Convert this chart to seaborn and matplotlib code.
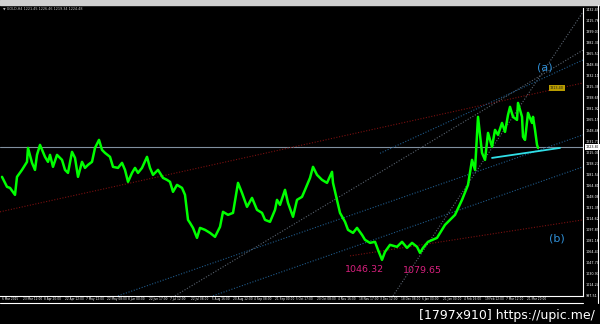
import matplotlib
matplotlib.use("Agg")
import matplotlib.pyplot as plt
import seaborn as sns
import pandas as pd

sns.set_theme(style="dark")
plt.rcParams['font.family'] = ['DejaVu Sans']

# ---- data (bar index, price) ----
bars = [2, 7, 10, 15, 17, 22, 27, 28, 32, 35, 37, 40, 45, 48, 50, 53, 57, 62, 65, 68,
        72, 75, 78, 82, 85, 88, 92, 95, 99, 102, 105, 110, 113, 118, 122, 125, 128, 132,
        135, 138, 142, 147, 150, 153, 158, 163, 167, 170, 173, 177, 182, 185, 188, 190,
        193, 197, 200, 205, 210, 215, 220, 223, 228, 233, 238, 242, 247, 252, 257, 262,
        265, 270, 275, 277, 280, 285, 288, 293, 297, 302, 305, 310, 313, 317, 322, 327,
        332, 333, 337, 340, 345, 348, 353, 357, 362, 365, 370, 375, 378, 382, 385, 390,
        397, 402, 407, 412, 417, 420, 423, 428, 437, 445, 455, 462, 468, 472, 475, 478,
        482, 485, 488, 492, 495, 498, 502, 505, 508, 510, 513, 517, 518, 522, 523, 525,
        528, 532, 533, 535, 537, 538]
prices = [1178.2, 1163.0, 1161.4, 1150.8, 1178.2, 1188.8, 1201.0, 1222.2, 1199.5, 1188.8,
          1211.6, 1226.8, 1208.6, 1201.0, 1211.6, 1193.4, 1211.6, 1204.0, 1188.8, 1184.2,
          1216.2, 1207.0, 1178.2, 1201.0, 1191.8, 1196.4, 1201.0, 1222.2, 1234.4, 1219.2,
          1214.6, 1208.6, 1193.4, 1191.8, 1199.5, 1188.8, 1170.6, 1184.2, 1191.8, 1184.2,
          1191.8, 1208.6, 1191.8, 1181.2, 1188.8, 1176.6, 1173.6, 1170.6, 1155.4, 1166.0,
          1161.4, 1150.8, 1112.8, 1108.2, 1100.6, 1085.4, 1100.6, 1097.6, 1093.0, 1087.0,
          1102.2, 1125.0, 1120.4, 1123.4, 1169.0, 1153.8, 1132.6, 1146.2, 1128.0, 1123.4,
          1112.8, 1109.8, 1128.0, 1143.2, 1135.6, 1158.4, 1138.6, 1117.4, 1143.2, 1147.8,
          1158.4, 1176.6, 1193.4, 1181.2, 1173.6, 1169.0, 1185.8, 1169.0, 1143.2, 1123.4,
          1109.8, 1097.6, 1093.0, 1100.6, 1090.0, 1082.4, 1077.8, 1079.4, 1067.2, 1052.0,
          1064.2, 1074.8, 1071.8, 1079.4, 1070.2, 1077.8, 1071.8, 1062.6, 1070.2, 1079.4,
          1085.4, 1105.2, 1120.4, 1143.2, 1166.0, 1204.0, 1188.8, 1269.4, 1214.6, 1204.0,
          1245.0, 1223.8, 1249.6, 1242.0, 1260.2, 1246.6, 1272.4, 1284.6, 1269.4, 1264.8,
          1290.6, 1269.4, 1239.0, 1234.4, 1275.4, 1260.2, 1269.4, 1249.6, 1226.8, 1222.2]

time_labels = ["6 Mar 2015", "23 Mar 12:00", "8 Apr 20:00", "22 Apr 12:00", "7 May 12:00",
               "22 May 08:00", "8 Jun 00:00", "22 Jun 17:00", "7 Jul 12:00", "22 Jul 08:00",
               "5 Aug 16:00", "20 Aug 12:00", "4 Sep 08:00", "21 Sep 00:00", "5 Oct 17:00",
               "20 Oct 08:00", "4 Nov 16:00", "18 Nov 17:00", "3 Dec 12:00", "18 Dec 08:00",
               "6 Jan 00:00", "21 Jan 00:00", "4 Feb 16:00", "19 Feb 12:00", "7 Mar 12:00",
               "21 Mar 20:00"]
time_ticks = [2, 23, 44, 65, 86, 107, 128, 149, 170, 191, 212, 233, 254, 275, 296, 317,
              338, 359, 380, 401, 422, 443, 464, 485, 506, 527]

price_ticks = [997.51, 1014.24, 1030.97, 1047.70, 1064.43, 1081.16, 1097.89, 1114.62,
               1131.35, 1148.08, 1164.81, 1181.54, 1198.27, 1215.00, 1231.73, 1248.46,
               1265.19, 1281.92, 1298.65, 1315.38, 1332.11, 1348.84, 1365.57, 1382.30,
               1399.03, 1415.76, 1432.49]

current_price = 1223.8

# trend / channel lines: (x0, p0, x1, p1, colour)
channel_lines = [
    (0, 1125.0, 583, 1321.0, "#7a1010"),
    (350, 1058.0, 583, 1112.8, "#7a1010"),
    (118, 997.3, 583, 1242.0, "#1f5a8a"),
    (213, 997.3, 583, 1193.4, "#1f5a8a"),
    (393, 997.3, 583, 1429.0, "#5a6470"),
    (175, 997.3, 583, 1371.0, "#5a6470"),
    (380, 1214.0, 583, 1356.0, "#1f5a8a"),
]
support_line = (492, 1207.0, 560, 1222.2)

# ---- figure ----
fig = plt.figure(figsize=(6.0, 3.24), dpi=100, facecolor="black")
ax = fig.add_axes([0.0, 0.0864, 0.9717, 0.889])
ax.set_facecolor("black")

df = pd.DataFrame({"bar": bars, "price": prices})
sns.lineplot(data=df, x="bar", y="price", color="#00ff00", linewidth=1.8,
             estimator=None, sort=False, ax=ax)

ax.axhline(current_price, color="#8090a0", linewidth=0.8, zorder=1)
for x0, p0, x1, p1, c in channel_lines:
    ax.plot([x0, x1], [p0, p1], color=c, linewidth=0.8, linestyle=(0, (1, 1.5)), zorder=1)
ax.plot([support_line[0], support_line[2]], [support_line[1], support_line[3]],
        color="#30e0e8", linewidth=1.3, zorder=3)

ax.set_xlim(0, 583)
ax.set_ylim(997, 1435)
ax.set_xlabel("")
ax.set_ylabel("")
ax.set_xticks([])
ax.set_yticks([])
for s in ["top", "left"]:
    ax.spines[s].set_visible(False)
for s in ["right", "bottom"]:
    ax.spines[s].set_color("white")
    ax.spines[s].set_linewidth(0.8)

# annotations
ax.text(545, 1343.8, "(a)", color="#2f8fd6", fontsize=8, ha="center", va="center")
ax.text(557, 1084.0, "(b)", color="#2f8fd6", fontsize=8, ha="center", va="center")
ax.text(364, 1036.8, "1046.32", color="#d8207e", fontsize=6.8, ha="center", va="center")
ax.text(422, 1035.3, "1079.65", color="#d8207e", fontsize=6.8, ha="center", va="center")
ax.text(557, 1313.4, "1313.40", color="#202020", fontsize=2.4, ha="center", va="center",
        bbox=dict(boxstyle="square,pad=0.25", facecolor="#b89c00", edgecolor="none"))

# price scale
for p in price_ticks:
    ax.text(585.5, p, f"{p:.2f}", color="white", fontsize=2.4, ha="left", va="center",
            clip_on=False)
ax.text(585.5, current_price, f"{current_price:.2f}", color="black", fontsize=2.4,
        ha="left", va="center", clip_on=False,
        bbox=dict(boxstyle="square,pad=0.2", facecolor="white", edgecolor="none"))

# time scale
for t, lab in zip(time_ticks, time_labels):
    ax.text(t, 995, lab, color="white", fontsize=2.1, ha="left", va="top", clip_on=False)

# window frame lines and title strip
fig.add_artist(plt.Line2D([0, 0.9717], [0.0648, 0.0648], color="white", linewidth=0.8))
fig.add_artist(plt.Line2D([0.9967, 0.9967], [0.0648, 0.985], color="white", linewidth=0.8))
fig.add_artist(plt.Rectangle((0, 0.985), 1, 0.015, color="#d0d0d0", transform=fig.transFigure))
fig.text(0.005, 0.972, "\u25bc GOLD,H4 1221.45 1226.46 1219.34 1224.48", color="#c0c0c0",
         fontsize=2.4, ha="left", va="center")

fig.text(0.992, 0.027, "[1797x910] https://upic.me/", color="white", fontsize=9,
         ha="right", va="center")

fig.savefig("out.png", dpi=100, facecolor="black")
